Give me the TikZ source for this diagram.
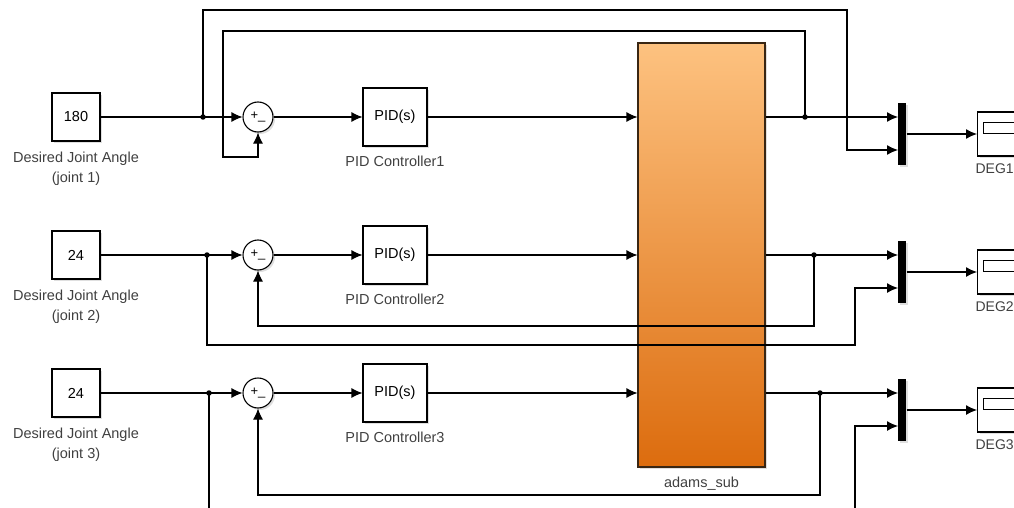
\documentclass[tikz,border=0pt]{standalone}
\usepackage{fontspec}
\setmainfont{Liberation Sans}
\usetikzlibrary{%
  positioning
 ,arrows.meta
 ,calc
 ,shadows
}
\definecolor{adtop}{RGB}{253,194,128}
\definecolor{adbot}{RGB}{220,108,14}
\tikzstyle{sim}=[x=1pt,y=-1pt,>={Latex[length=11pt,width=10pt]},line width=1.1pt,font=\fontsize{14.5}{20}\selectfont]
\tikzstyle{shd}=[drop shadow={opacity=0.25,shadow xshift=2pt,shadow yshift=-2pt}]
\tikzstyle{const}=[draw,fill=white,shd,minimum width=48pt,minimum height=48pt,inner sep=0pt]
\tikzstyle{sum}=[circle,draw,fill=white,shd,minimum size=30pt,inner sep=0pt,font=\fontsize{13}{13}\selectfont]
\tikzstyle{pid}=[draw,fill=white,shd,minimum width=64pt,minimum height=58pt,inner sep=0pt]
\tikzstyle{adams}=[draw=black!70!brown,top color=adtop,bottom color=adbot,shd,minimum width=127pt,minimum height=424pt]
\tikzstyle{mux}=[fill=black,shd,minimum width=8pt,minimum height=62pt,inner sep=0pt]
\tikzstyle{scp}=[draw,fill=white,shd,minimum width=50pt,minimum height=44pt,
  path picture={\draw[line width=0.9pt] ([shift={(6pt,-10pt)}]path picture bounding box.north west) rectangle +(40pt,-11pt);}]
\tikzstyle{lbl}=[align=center,text=black!75,inner sep=0pt]
\tikzstyle{bdot}=[circle,fill=black,inner sep=0pt,minimum size=5.5pt]

\begin{document}
\begin{tikzpicture}[sim]
  \useasboundingbox (0,0) rectangle (1014,508);
  % set points
  \node[const] (src1) at (76,117) {180};
  \node[const] (src2) at (76,255) {24};
  \node[const] (src3) at (76,393) {24};
  \node[lbl,below=10pt of src1] {Desired Joint Angle\\(joint 1)};
  \node[lbl,below=10pt of src2] {Desired Joint Angle\\(joint 2)};
  \node[lbl,below=10pt of src3] {Desired Joint Angle\\(joint 3)};
  % controllers
  \node[sum] (sum1) at (258,117) {+\_};
  \node[sum] (sum2) at (258,255) {+\_};
  \node[sum] (sum3) at (258,393) {+\_};
  \node[pid] (pid1) at (395,117) {PID(s)};
  \node[pid] (pid2) at (395,255) {PID(s)};
  \node[pid] (pid3) at (395,393) {PID(s)};
  \node[lbl,below=9pt of pid1] {PID Controller1};
  \node[lbl,below=9pt of pid2] {PID Controller2};
  \node[lbl,below=9pt of pid3] {PID Controller3};
  % plant
  \node[adams] (adams) at (701.5,255) {};
  \node[lbl,below=9pt of adams] {adams\_sub};
  % outputs
  \node[mux] (mux1) at (902,134) {};
  \node[mux] (mux2) at (902,272) {};
  \node[mux] (mux3) at (902,410) {};
  \node[scp,anchor=west] (deg1) at (977,134) {};
  \node[scp,anchor=west] (deg2) at (977,272) {};
  \node[scp,anchor=west] (deg3) at (977,410) {};
  \node[lbl,font=\fontsize{14}{16}\selectfont,anchor=north west] at ([shift={(-2pt,-7pt)}]deg1.south west) {DEG1};
  \node[lbl,font=\fontsize{14}{16}\selectfont,anchor=north west] at ([shift={(-2pt,-7pt)}]deg2.south west) {DEG2};
  \node[lbl,font=\fontsize{14}{16}\selectfont,anchor=north west] at ([shift={(-2pt,-7pt)}]deg3.south west) {DEG3};
%
  \coordinate (b1) at (203,117);
  \coordinate (b2) at (207,255);
  \coordinate (b3) at (209,393);
  \coordinate (f1) at (805,117);
  \coordinate (f2) at (814,255);
  \coordinate (f3) at (820,393);
  \coordinate (m1a) at (898,117);
  \coordinate (m1b) at (898,150);
  \coordinate (m2a) at (898,255);
  \coordinate (m2b) at (898,288);
  \coordinate (m3a) at (898,393);
  \coordinate (m3b) at (898,426);
%
  \path[->]
  (src1) edge (sum1) (sum1) edge (pid1) (pid1) edge (pid1 -| adams.west)
  (src2) edge (sum2) (sum2) edge (pid2) (pid2) edge (pid2 -| adams.west)
  (src3) edge (sum3) (sum3) edge (pid3) (pid3) edge (pid3 -| adams.west)
  (pid1 -| adams.east) edge (m1a) (mux1) edge (deg1)
  (pid2 -| adams.east) edge (m2a) (mux2) edge (deg2)
  (pid3 -| adams.east) edge (m3a) (mux3) edge (deg3);
  % feedback and reference taps
  \draw[->] (b1) |- (847,10) |- (m1b);
  \draw[->] (f1) |- (223,31) -- (223,157) -| (sum1);
  \draw[->] (b2) |- (855,345) |- (m2b);
  \draw[->] (f2) -- (814,326) -| (sum2);
  \draw[->] (b3) |- (855,530) |- (m3b);
  \draw[->] (f3) -- (820,495) -| (sum3);
  \foreach \p in {b1,b2,b3,f1,f2,f3} \node[bdot] at (\p) {};
\end{tikzpicture}
\end{document}
